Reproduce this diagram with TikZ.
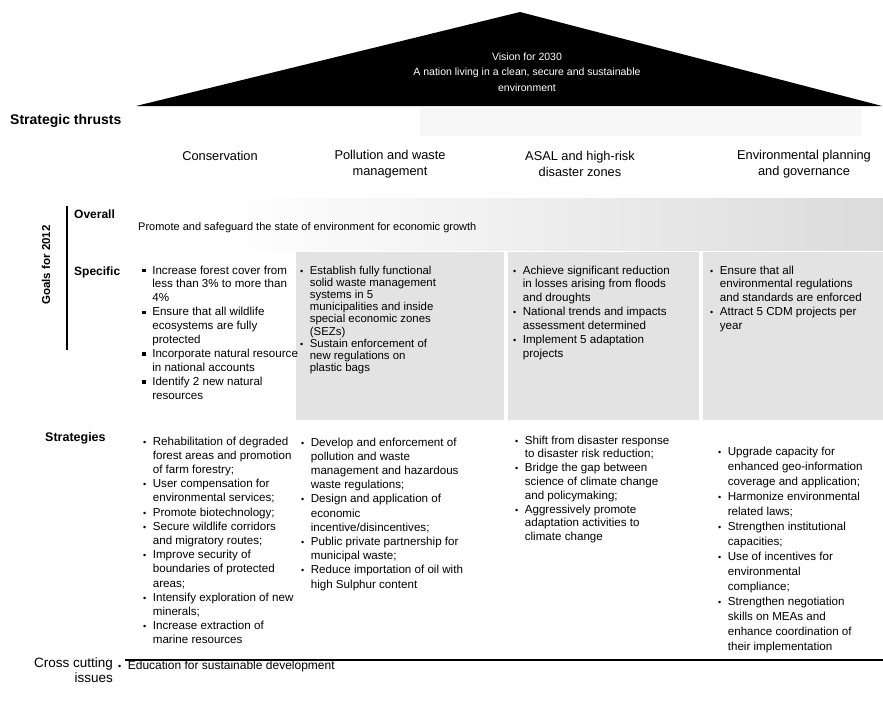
\documentclass[tikz,border=0pt]{standalone}
\usepackage{fontspec}
\setmainfont{Liberation Sans}
\usetikzlibrary{positioning}

% bullet lists as two-column tabulars: bullet | wrapped lines
\newcommand{\goallist}[1]{\begin{tabular}[t]{@{}l@{\hspace{6.5pt}}l@{}}#1\end{tabular}}
\newcommand{\bul}{{\small\textbullet}}
\newcommand{\sqbul}{\rule[1.6pt]{3.6pt}{3.6pt}}

\begin{document}
\begin{tikzpicture}[x=1pt, y=-1pt,
  thrust/.style={font=\fontsize{12.8}{15.5}\selectfont, align=center, inner sep=0pt},
  rowlabel/.style={font=\fontsize{11.5}{13}\selectfont\bfseries, anchor=base west, inner sep=0pt},
  body/.style={font=\fontsize{11.6}{14.2}\selectfont, anchor=base west, inner sep=0pt},
  goal/.style={font=\fontsize{11.6}{13.9}\selectfont, anchor=base west, inner sep=0pt},
  tone/.style={fill=black!11}]
  \useasboundingbox (0,0) rectangle (883,713);

  % shaded goal bands
  \fill[black!3] (420,108) rectangle (862,136);
  \shade[left color=white, right color=black!14] (225,198) rectangle (883,250);
  \fill[tone] (296,252) rectangle (504,420);
  \fill[tone] (508,252) rectangle (699,420);
  \fill[tone] (703,252) rectangle (883,420);

  % Vision triangle
  \fill[black] (136,106) -- (520,12) -- (882,106) -- cycle;
  \node[text=white, align=center, inner sep=0pt, font=\fontsize{10.5}{15.5}\selectfont] (vision) at (527,72)
    {Vision for 2030\\A nation living in a clean, secure and sustainable\\environment};

  \node[font=\fontsize{14}{16}\selectfont\bfseries, anchor=base west, inner sep=0pt] (thrusts) at (10,124) {Strategic thrusts};

  % Thrust headings
  \node[thrust] (cons) at (220,156) {Conservation};
  \node[thrust] (poll) at (390,164) {Pollution and waste\\management};
  \node[thrust] (asal) at (580,164) {ASAL and high-risk\\disaster zones};
  \node[thrust] (plan) at (804,164) {Environmental planning\\and governance};

  % Goals for 2012
  \draw[line width=1.6pt] (67,206) -- (67,350);
  \node[rowlabel, anchor=center, rotate=90] (goals) at (46,265) {Goals for 2012};
  \node[rowlabel, font=\fontsize{12}{13}\selectfont\bfseries] (overall) at (74,218) {Overall};
  \node[rowlabel, font=\fontsize{12}{13}\selectfont\bfseries] (specific) at (74,275) {Specific};

  \node[body, font=\fontsize{11}{13}\selectfont] (overalltxt) at (138,230)
    {Promote and safeguard the state of environment for economic growth};

  \node[goal] (conspec) at (142,274) {\goallist{
    \sqbul & Increase forest cover from\\ & less than 3\% to more than\\ & 4\%\\
    \sqbul & Ensure that all wildlife\\ & ecosystems are fully\\ & protected\\
    \sqbul & Incorporate natural resource\\ & in national accounts\\
    \sqbul & Identify 2 new natural\\ & resources}};
  \node[goal, font=\fontsize{11.4}{12.2}\selectfont] (pollspec) at (300,274) {\goallist{
    \bul & Establish fully functional\\ & solid waste management\\ & systems in 5\\
      & municipalities and inside\\ & special economic zones\\ & (SEZs)\\
    \bul & Sustain enforcement of\\ & new regulations on\\ & plastic bags}};
  \node[goal] (asalspec) at (513,274) {\goallist{
    \bul & Achieve significant reduction\\ & in losses arising from floods\\ & and droughts\\
    \bul & National trends and impacts\\ & assessment determined\\
    \bul & Implement 5 adaptation\\ & projects}};
  \node[goal] (planspec) at (710,274) {\goallist{
    \bul & Ensure that all\\ & environmental regulations\\ & and standards are enforced\\
    \bul & Attract 5 CDM projects per\\ & year}};

  % Strategies
  \node[rowlabel, font=\fontsize{12.5}{14}\selectfont\bfseries] (strat) at (45,441) {Strategies};

  \node[body] (consstrat) at (143,445) {\goallist{
    \bul & Rehabilitation of degraded\\ & forest areas and promotion\\ & of farm forestry;\\
    \bul & User compensation for\\ & environmental services;\\
    \bul & Promote biotechnology;\\
    \bul & Secure wildlife corridors\\ & and migratory routes;\\
    \bul & Improve security of\\ & boundaries of protected\\ & areas;\\
    \bul & Intensify exploration of new\\ & minerals;\\
    \bul & Increase extraction of\\ & marine resources}};
  \node[body] (pollstrat) at (301,446) {\goallist{
    \bul & Develop and enforcement of\\ & pollution and waste\\ & management and hazardous\\ & waste regulations;\\
    \bul & Design and application of\\ & economic\\ & incentive/disincentives;\\
    \bul & Public private partnership for\\ & municipal waste;\\
    \bul & Reduce importation of oil with\\ & high Sulphur content}};
  \node[body, font=\fontsize{11.6}{13.8}\selectfont] (asalstrat) at (515,444) {\goallist{
    \bul & Shift from disaster response\\ & to disaster risk reduction;\\
    \bul & Bridge the gap between\\ & science of climate change\\ & and policymaking;\\
    \bul & Aggressively promote\\ & adaptation activities to\\ & climate change}};
  \node[body, font=\fontsize{11.6}{15}\selectfont] (planstrat) at (718,455) {\goallist{
    \bul & Upgrade capacity for\\ & enhanced geo-information\\ & coverage and application;\\
    \bul & Harmonize environmental\\ & related laws;\\
    \bul & Strengthen institutional\\ & capacities;\\
    \bul & Use of incentives for\\ & environmental\\ & compliance;\\
    \bul & Strengthen negotiation\\ & skills on MEAs and\\ & enhance coordination of\\ & their implementation}};

  % Cross cutting issues
  \draw[line width=2.6pt] (125,660) -- (883,660);
  \node[font=\fontsize{13.5}{15}\selectfont, align=right, anchor=north east, inner sep=0pt] (cross) at (113,658)
    {Cross cutting\\issues};
  \node[body, font=\fontsize{12}{14}\selectfont] (edu) at (118,669) {\goallist{\bul & Education for sustainable development}};
\end{tikzpicture}
\end{document}
